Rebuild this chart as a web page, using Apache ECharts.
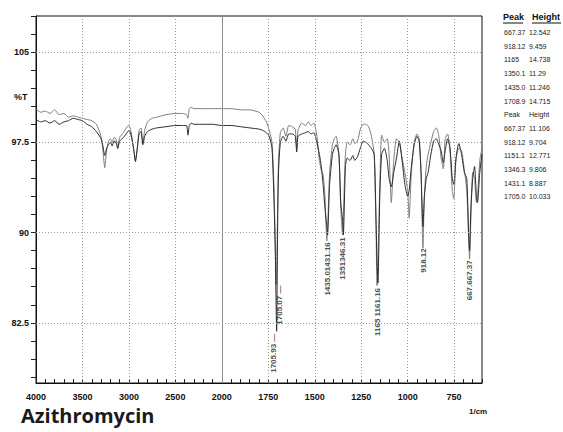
<!DOCTYPE html>
<html>
<head>
<meta charset="utf-8">
<script src="https://cdn.jsdelivr.net/npm/echarts@6/dist/echarts.min.js"></script>
<style>
  html, body { margin: 0; padding: 0; background: #fff; }
  #chart { width: 563px; height: 432px; }
</style>
</head>
<body>
<div id="chart"></div>
<script>
// wavenumbers (1/cm) shared by both traces
const wavenumbers = [4000,3950,3900,3850,3800,3750,3700,3650,3600,3550,3500,3450,3400,3350,3300,3280,3260,3240,3220,3200,3180,3160,3140,3120,3100,3060,3020,3000,2980,2950,2930,2910,2890,2870,2850,2830,2800,2750,2700,2600,2500,2420,2380,2365,2350,2330,2300,2200,2100,2000,
  1950,1900,1850,1800,1780,1760,1745,1730,1720,1712,1708,1705,1700,1695,1685,1670,1655,1640,1620,1605,1597,1590,1570,1550,1535,1520,1505,1490,1475,1465,1455,1445,1435,1431,1420,1405,1395,1385,1370,1360,1350,1346,1335,1325,1310,1295,1285,1270,1255,1240,1225,1210,1195,1180,1170,1165,1160,1150,1140,1125,1110,1100,1088,1075,1060,1045,1030,1015,1000,992,980,965,950,938,928,918,910,900,890,875,860,846,832,820,808,798,785,772,760,752,740,725,710,695,682,672,667,660,650,640,630,624,612,600];

// %T, lighter (upper) trace
const lightT = [100.3,100.0,100.1,99.9,100.2,99.8,99.9,99.6,99.7,99.6,99.5,99.4,99.3,99.0,98.0,96.8,95.4,96.8,97.6,97.8,97.5,97.9,97.8,97.0,97.9,98.3,98.8,98.9,98.5,97.0,96.0,97.0,98.5,98.7,97.4,98.5,99.2,99.5,99.6,99.8,99.9,99.9,99.8,99.5,100.3,100.4,100.3,100.3,100.3,100.3,
  100.3,100.2,100.2,100.0,99.7,99.2,98.5,97.5,94,89,85.7,86.5,92,96,98.3,98.7,98.0,98.9,98.8,98.6,97.0,98.5,99.1,98.9,99.2,98.9,99.1,98.2,96.0,95.2,94.8,93.0,89.3,90.2,95,97.3,97.8,98.0,96.5,92,89.8,91.5,96.5,97.5,97.3,97.8,97.4,97.6,98.6,99.0,99.0,98.8,98.0,96.5,90,85.6,87.5,94,98.1,97.5,97.8,96.5,92.5,96.0,97.8,97.5,96.2,95.0,93.5,91.2,95.0,97.5,98.2,97.8,95,88.7,93,95.5,96.5,97.5,98.4,98.7,98.0,96.2,95.3,97.8,98.2,96.8,93.5,92.8,96.0,97.0,96.8,95.2,93.5,89.5,87.8,91,95.0,94.5,92.5,93,96,97.0];

// %T, darker (lower) trace
const darkT = [99.4,99.2,99.3,99.1,99.3,99.0,99.2,99.3,99.5,99.4,99.3,99.0,98.8,98.4,97.8,97.2,96.4,97.0,97.3,97.5,97.2,97.6,97.5,97.0,97.6,97.9,98.3,98.5,98.2,97.0,95.9,97.0,98.2,98.4,97.3,98.0,98.4,98.6,98.7,98.8,98.9,98.9,98.9,98.1,98.9,99.1,99.0,99.0,99.0,98.9,
  98.9,98.8,98.7,98.6,98.5,98.3,98.0,97.0,93,88,84,81.8,90,95,97.5,98.0,97.6,98.2,98.2,98.0,96.7,98.0,98.2,98.3,98.4,98.2,98.3,97.6,96.5,95.5,94.0,92.0,90.5,89.8,94,96.5,97.0,97.3,96.5,92.5,91,89.8,95.5,96.2,96.0,96.4,96.0,96.3,97.0,97.6,97.5,97.3,97.0,96.5,91,87.5,85.8,93,96.5,97.0,96.0,94.5,93.8,95.0,96.2,97.6,96.0,94.0,93.0,93.5,95.5,97.3,98.0,97.6,95,90.5,93,94.5,95.0,96.5,97.6,97.8,97.3,96.8,95.8,96.8,97.8,97.0,94.5,94.0,96.2,97.4,96.5,95.0,94.5,90,88.5,92,94.5,95.5,93.0,92.5,95.0,96.5];

// axis labels
const xTickLabels = ['4000','3500','3000','2500','2000','1750','1500','1250','1000','750'];
const yLabelValues = [82.5, 90, 97.5, 105];
const yTickValues = [78,79.5,81,82.5,84,85.5,87,88.5,90,91.5,93,94.5,96,97.5,99,100.5,102,103.5,105,106.5,108];
const xGridDotted = [3500, 3000, 2500, 1750, 1500, 1250, 1000, 750];
const xGridSolid = [2000];

// peak annotations (label anchor = top end of the rotated text)
const peakLabelW = [1690, 1722, 1434, 1348, 1160, 916, 667];
const peakLabelT = [85.6, 81.6, 89.2, 89.6, 85.4, 88.7, 87.7];
const peakLabelText = ['1705.07 \u2014', '1705.93 \u2014', '1435.01431.16', '1351346.31', '1165 1161.16', '918.12', '667.667.37'];

// peak table (right side)
const peaksA = ['667.37','918.12','1165','1350.1','1435.0','1708.9'];
const heightsA = ['12.542','9.459','14.738','11.29','11.246','14.715'];
const peaksB = ['667.37','918.12','1151.1','1346.3','1431.1','1705.0'];
const heightsB = ['11.106','9.704','12.771','9.806','8.887','10.033'];

// two-scale IR axis: 500/div above 2000, 250/div below
const toU = w => w >= 2000 ? (4000 - w) / 500 : 4 + (2000 - w) / 250;

const sans = "'Liberation Sans', Arial, sans-serif";

const chart = echarts.init(document.getElementById('chart'), null, { renderer: 'svg' });

const tableTexts = [];
const rowY = k => 29 + k * 13.7;
const cell = (x, k, t) => ({ type: 'text', left: x, top: rowY(k), style: { text: t, font: '7px ' + sans, fill: '#222' } });
tableTexts.push({ type: 'text', left: 503, top: 12, style: { text: 'Peak', font: 'bold 9px ' + sans, fill: '#111' } });
tableTexts.push({ type: 'text', left: 532, top: 12, style: { text: 'Height', font: 'bold 9px ' + sans, fill: '#111' } });
tableTexts.push({ type: 'line', shape: { x1: 503, y1: 23, x2: 523, y2: 23 }, style: { stroke: '#111', lineWidth: 1 } });
tableTexts.push({ type: 'line', shape: { x1: 532, y1: 23, x2: 561, y2: 23 }, style: { stroke: '#111', lineWidth: 1 } });
peaksA.forEach((p, i) => {
  tableTexts.push(cell(504, i, p));
  tableTexts.push(cell(529, i, heightsA[i]));
});
tableTexts.push(cell(504, 6, 'Peak'));
tableTexts.push(cell(529, 6, 'Height'));
peaksB.forEach((p, i) => {
  tableTexts.push(cell(504, i + 7, p));
  tableTexts.push(cell(529, i + 7, heightsB[i]));
});

const dotted = { color: '#9a9a9a', type: [1, 2], width: 1 };
const solid = { color: '#8c8c8c', type: 'solid', width: 1 };

chart.setOption({
  animation: false,
  backgroundColor: '#fff',
  grid: { left: 36, right: 81, top: 16, bottom: 49, show: true, borderColor: '#111', borderWidth: 1 },
  xAxis: {
    type: 'value',
    min: 0,
    max: 9.6,
    interval: 0.2,
    axisLine: { lineStyle: { color: '#111', width: 1 } },
    axisTick: { inside: true, length: 4, lineStyle: { color: '#222' } },
    splitLine: { show: false },
    axisLabel: {
      color: '#111', fontSize: 9, fontWeight: 'bold', fontFamily: sans, margin: 9,
      formatter: v => {
        const r = Math.round(v);
        return Math.abs(v - r) < 1e-6 && xTickLabels[r] !== undefined ? xTickLabels[r] : '';
      }
    }
  },
  yAxis: {
    type: 'value',
    min: 77.5,
    max: 108,
    axisLine: { lineStyle: { color: '#111', width: 1 } },
    axisTick: { inside: false, length: 5, customValues: yTickValues, lineStyle: { color: '#222' } },
    axisLabel: { customValues: yLabelValues, color: '#111', fontSize: 9, fontWeight: 'bold', fontFamily: sans, margin: 7 },
    splitLine: { show: false }
  },
  graphic: [
    { type: 'text', left: 14, top: 92, style: { text: '%T', font: 'bold 9px ' + sans, fill: '#111' } },
    { type: 'text', left: 469, top: 407, style: { text: '1/cm', font: 'bold 8px ' + sans, fill: '#111' } },
    { type: 'text', left: 21, top: 405, style: { text: 'Azithromycin', font: 'bold 20px "Open Sans", "DejaVu Sans", sans-serif', fill: '#1a1a1a' } }
  ].concat(tableTexts),
  series: [
    {
      type: 'line',
      data: [],
      silent: true,
      markLine: {
        silent: true,
        symbol: 'none',
        label: { show: false },
        data: xGridDotted.map(w => ({ xAxis: toU(w), lineStyle: dotted }))
          .concat(xGridSolid.map(w => ({ xAxis: toU(w), lineStyle: solid })))
          .concat(yLabelValues.map(v => ({ yAxis: v, lineStyle: dotted })))
      }
    },
    {
      name: 'light',
      type: 'line',
      showSymbol: false,
      smooth: 0.2,
      data: wavenumbers.map((w, i) => [toU(w), lightT[i]]),
      lineStyle: { color: '#7d7d7d', width: 1 },
      z: 3
    },
    {
      name: 'dark',
      type: 'line',
      showSymbol: false,
      smooth: 0.2,
      data: wavenumbers.map((w, i) => [toU(w), darkT[i]]),
      lineStyle: { color: '#2b2b2b', width: 1 },
      z: 4
    },
    {
      type: 'scatter',
      symbolSize: 0,
      silent: true,
      data: peakLabelW.map((w, i) => ({ value: [toU(w), peakLabelT[i]], name: peakLabelText[i] })),
      label: {
        show: true,
        position: 'inside',
        rotate: 90,
        align: 'right',
        verticalAlign: 'middle',
        formatter: p => p.name,
        color: '#222',
        fontSize: 8,
        fontWeight: 'bold',
        fontFamily: sans
      },
      z: 5
    }
  ]
});
</script>
</body>
</html>
